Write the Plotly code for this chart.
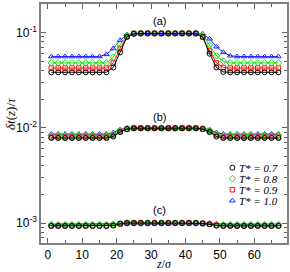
import math
import plotly.graph_objects as go

z = [1, 3, 5, 7, 9, 11, 13, 15, 17, 19, 21, 23, 25, 27, 29, 31, 33,
     35, 37, 39, 41, 43, 45, 47, 49, 51, 53, 55, 57, 59, 61, 63, 65, 67]

labels = ["T* = 0.7", "T* = 0.8", "T* = 0.9", "T* = 1.0"]

# panel (a)
a_07 = [0.0383]*9 + [0.043, 0.062, 0.090, 0.097] + [0.098]*9 + [0.090, 0.060, 0.043, 0.0386] + [0.0383]*8
a_08 = [0.048]*9 + [0.055, 0.075, 0.093, 0.098] + [0.098]*9 + [0.094, 0.074, 0.057, 0.050] + [0.048]*8
a_09 = [0.0424]*9 + [0.048, 0.068, 0.091, 0.098] + [0.098]*9 + [0.090, 0.064, 0.048, 0.043] + [0.0424]*8
a_10 = [0.056]*8 + [0.059, 0.068, 0.083, 0.095, 0.098] + [0.098]*9 + [0.097, 0.086, 0.071, 0.062, 0.057] + [0.056]*7

# panel (b)
b_07 = [0.0078]*9 + [0.0081, 0.0090, 0.0097, 0.0099] + [0.0099]*9 + [0.0097, 0.0090, 0.0081, 0.0078] + [0.0078]*8
b_08 = [0.0083]*9 + [0.0086, 0.0094, 0.0098, 0.0099] + [0.0099]*9 + [0.0098, 0.0094, 0.0086, 0.0083] + [0.0083]*8
b_09 = [0.0080]*9 + [0.0083, 0.0092, 0.0097, 0.0099] + [0.0099]*9 + [0.0097, 0.0092, 0.0084, 0.0080] + [0.0080]*8
b_10 = [0.0086]*9 + [0.0089, 0.0096, 0.0099, 0.0099] + [0.0099]*9 + [0.0099, 0.0095, 0.0089, 0.0086] + [0.0086]*8

# panel (c)
c_07 = [0.00093]*9 + [0.00094, 0.00098, 0.00100, 0.00100] + [0.00100]*9 + [0.00099, 0.00097, 0.00094, 0.00093] + [0.00093]*8
c_08 = [0.00095]*9 + [0.00096, 0.00098, 0.00100, 0.00100] + [0.00100]*9 + [0.00099, 0.00098, 0.00096, 0.00095] + [0.00095]*8
c_09 = [0.00094]*9 + [0.00095, 0.00098, 0.00100, 0.00100] + [0.00100]*9 + [0.00099, 0.00097, 0.00095, 0.00094] + [0.00094]*8
c_10 = [0.00097]*9 + [0.00098, 0.00099, 0.00100, 0.00100] + [0.00100]*9 + [0.00100, 0.00099, 0.00098, 0.00097] + [0.00097]*8

panel_labels = ["(a)", "(b)", "(c)"]
panel_label_y = [0.133, 0.0131, 0.00136]
panel_label_x = 32.5

ytick_vals = [0.001, 0.01, 0.1]
ytick_text = ["10<sup>-3</sup>", "10<sup>-2</sup>", "10<sup>-1</sup>"]

# (label, a, b, c, color, symbol) -- drawn blue first so black ends on top
series = [
    (labels[3], a_10, b_10, c_10, "#2020ff", "triangle-up-open"),
    (labels[2], a_09, b_09, c_09, "#ff1010", "square-open"),
    (labels[1], a_08, b_08, c_08, "#10e010", "diamond-open"),
    (labels[0], a_07, b_07, c_07, "#000000", "circle-open"),
]

# legend layout (paper-fraction positions inside the plot area)
leg_x = 0.778
leg_y_top = 0.315
leg_dy = 0.046

fig = go.Figure()
for name, a, b, c, col, sym in series:
    xs = z + [None] + z + [None] + z
    ys = a + [None] + b + [None] + c
    msize = 4.5 if sym == "square-open" else 5
    fig.add_trace(go.Scatter(
        x=xs, y=ys, mode="lines+markers", showlegend=False,
        line=dict(color=col, width=1),
        marker=dict(symbol=sym, size=msize, color=col, line=dict(color=col, width=1)),
        connectgaps=False, hoverinfo="skip",
    ))

# hand-drawn legend (marker + italic text), in legend order 0.7, 0.8, 0.9, 1.0
for i, (name, a, b, c, col, sym) in enumerate(reversed(series)):
    yy = leg_y_top - i * leg_dy
    msize = 4.5 if sym == "square-open" else 5
    fig.add_trace(go.Scatter(
        x=[leg_x], y=[yy], xaxis="x2", yaxis="y2", mode="markers", showlegend=False,
        marker=dict(symbol=sym, size=msize, color=col, line=dict(color=col, width=1)),
        hoverinfo="skip",
    ))
    fig.add_annotation(x=leg_x + 0.018, y=yy, xref="paper", yref="paper", text="<i>" + name + "</i>",
                       showarrow=False, xanchor="left", yanchor="middle",
                       font=dict(family="Liberation Serif", size=11, color="black"))

for lab, yy in zip(panel_labels, panel_label_y):
    fig.add_annotation(x=panel_label_x, y=math.log10(yy), yref="y", xref="x", text=lab,
                       showarrow=False, font=dict(family="Liberation Sans", size=11, color="black"))

# axis titles
fig.add_annotation(x=0.5, y=0, xref="paper", yref="paper", yshift=-21, text="<i>z</i>/<i>σ</i>",
                   showarrow=False, xanchor="center", yanchor="middle",
                   font=dict(family="Liberation Serif", size=12, color="black"))
fig.add_annotation(x=0, y=0.54, xref="paper", yref="paper", xshift=-30, text="<i>δt</i>(<i>z</i>)/<i>τ</i>",
                   showarrow=False, textangle=-90, xanchor="center", yanchor="middle",
                   font=dict(family="Liberation Serif", size=13, color="black"))

axis_common = dict(showline=True, linecolor="#808080", linewidth=1.5, mirror="ticks",
                   ticks="inside", tickcolor="#606060", ticklen=5, showgrid=False,
                   zeroline=False, automargin=False,
                   tickfont=dict(family="Liberation Sans", size=12, color="black"))

fig.update_layout(
    xaxis=dict(range=[-2, 69.5], tick0=0, dtick=10,
               minor=dict(ticks="inside", dtick=5, ticklen=3, tickcolor="#606060"),
               **axis_common),
    yaxis=dict(type="log", range=[-3.21, -0.70], tickvals=ytick_vals, ticktext=ytick_text,
               minor=dict(ticks="inside", dtick="D1", ticklen=3, tickcolor="#606060"),
               **axis_common),
    xaxis2=dict(overlaying="x", range=[0, 1], visible=False, fixedrange=True),
    yaxis2=dict(overlaying="y", range=[0, 1], visible=False, fixedrange=True),
    width=290, height=272,
    margin=dict(l=41, r=3, t=4, b=29, autoexpand=False),
    paper_bgcolor="white", plot_bgcolor="white",
    showlegend=False,
)

fig.write_html("out.html", config={"displayModeBar": False},
               post_script="document.body.style.margin='0px';document.body.style.overflow='hidden';")
